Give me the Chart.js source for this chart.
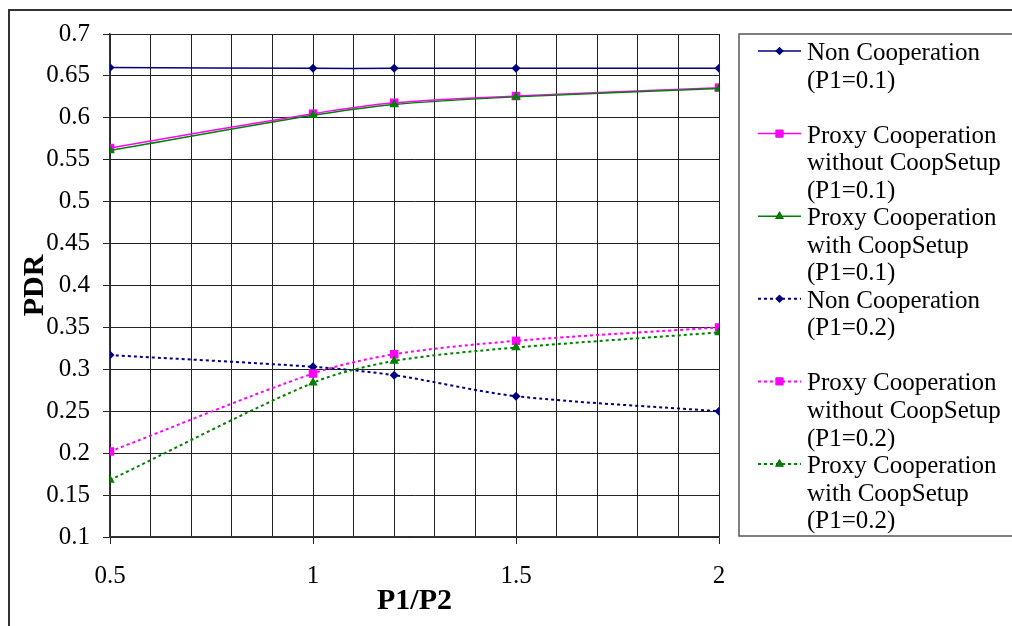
<!DOCTYPE html>
<html>
<head>
<meta charset="utf-8">
<title>PDR vs P1/P2</title>
<script src="https://cdn.jsdelivr.net/npm/chart.js@4.4.0/dist/chart.umd.min.js"></script>
<style>
  body { margin: 0; background: #fff; }
  #wrap { width: 1012px; height: 626px; }
</style>
</head>
<body>
<div id="wrap"><canvas id="myChart" width="1012" height="626"></canvas></div>
<script>
// x positions (P1/P2)
const ratios = [0.5, 1, 1.2, 1.5, 2];

// PDR values
const nonCoop01   = [0.660, 0.659, 0.659, 0.659, 0.659];
const proxyNo01   = [0.564, 0.605, 0.618, 0.626, 0.636];
const proxyWith01 = [0.561, 0.603, 0.616, 0.625, 0.635];
const nonCoop02   = [0.317, 0.303, 0.293, 0.268, 0.250];
const proxyNo02   = [0.202, 0.295, 0.318, 0.334, 0.350];
const proxyWith02 = [0.168, 0.284, 0.310, 0.326, 0.344];

// legend text, one array per series (three lines per slot)
const legendText = [
  ['Non Cooperation', '(P1=0.1)'],
  ['Proxy Cooperation', 'without CoopSetup', '(P1=0.1)'],
  ['Proxy Cooperation', 'with CoopSetup', '(P1=0.1)'],
  ['Non Cooperation', '(P1=0.2)'],
  ['Proxy Cooperation', 'without CoopSetup', '(P1=0.2)'],
  ['Proxy Cooperation', 'with CoopSetup', '(P1=0.2)']
];

const xLabelled = [0.5, 1, 1.5, 2];
const FONT = "'Liberation Serif', 'Times New Roman', serif";

function isLabelled(v) {
  return xLabelled.some(t => Math.abs(t - v) < 1e-6);
}

function series(values, color, marker, radius, dotted, i) {
  return {
    label: legendText[i].join(' '),
    data: ratios.map((x, k) => ({ x: x, y: values[k] })),
    borderColor: color,
    backgroundColor: color,
    borderWidth: dotted ? 2 : 1.5,
    borderDash: dotted ? [3, 3] : [],
    pointStyle: marker,
    pointRadius: radius,
    pointBorderWidth: 0,
    pointBackgroundColor: color,
    tension: 0.3,
    order: 6 - i
  };
}

// draws outer frame and the boxed legend on the right
const legendPlugin = {
  id: 'boxLegend',
  afterDraw(chart) {
    const ctx = chart.ctx;
    ctx.save();
    // outer frame
    ctx.strokeStyle = '#333';
    ctx.lineWidth = 2;
    ctx.beginPath();
    ctx.moveTo(9, 626);
    ctx.lineTo(9, 10);
    ctx.lineTo(1012, 10);
    ctx.stroke();

    // legend box
    ctx.strokeStyle = '#555';
    ctx.lineWidth = 1.5;
    ctx.strokeRect(739, 34, 300, 502);

    ctx.font = '25px ' + FONT;
    ctx.textBaseline = 'alphabetic';
    ctx.textAlign = 'left';
    chart.data.datasets.forEach((ds, i) => {
      const base = 60 + i * 82.6;
      const sy = base - 9;
      ctx.strokeStyle = ds.borderColor;
      ctx.lineWidth = ds.borderWidth;
      ctx.setLineDash(ds.borderDash);
      ctx.beginPath();
      ctx.moveTo(758, sy);
      ctx.lineTo(801, sy);
      ctx.stroke();
      ctx.setLineDash([]);
      Chart.helpers.drawPoint(ctx, {
        pointStyle: ds.pointStyle,
        radius: ds.pointRadius * 0.9,
        borderWidth: 0
      }, 779.5, sy);
      ctx.fillStyle = ds.backgroundColor;
      ctx.fill();
      ctx.fillStyle = '#000';
      legendText[i].forEach((line, j) => {
        ctx.fillText(line, 807, base + j * 27.6);
      });
    });
    ctx.restore();
  }
};

const myChart = new Chart(document.getElementById('myChart'), {
  type: 'line',
  data: {
    datasets: [
      series(nonCoop01,   '#000080', 'rectRot',  4.5, false, 0),
      series(proxyNo01,   '#FF00FF', 'rect',     6,   false, 1),
      series(proxyWith01, '#008000', 'triangle', 5.5, false, 2),
      series(nonCoop02,   '#000080', 'rectRot',  4.5, true,  3),
      series(proxyNo02,   '#FF00FF', 'rect',     6,   true,  4),
      series(proxyWith02, '#008000', 'triangle', 5.5, true,  5)
    ]
  },
  options: {
    responsive: false,
    animation: false,
    layout: { padding: { left: 0, top: 34, right: 293, bottom: 0 } },
    plugins: {
      legend: { display: false },
      tooltip: { enabled: false }
    },
    scales: {
      x: {
        type: 'linear',
        min: 0.5,
        max: 2,
        afterFit: scale => { scale.height = 89; },
        ticks: {
          stepSize: 0.1,
          autoSkip: false,
          maxRotation: 0,
          padding: 17,
          color: '#000',
          font: { family: FONT, size: 25 },
          callback: v => isLabelled(v) ? String(+v.toFixed(1)) : ''
        },
        grid: {
          color: '#222',
          lineWidth: 1,
          tickLength: 7,
          tickColor: c => (c.tick && isLabelled(c.tick.value)) ? '#222' : 'rgba(0,0,0,0)'
        },
        border: { color: '#333', width: 1.5 },
        title: {
          display: true,
          text: 'P1/P2',
          color: '#000',
          font: { family: FONT, size: 30, weight: 'bold' },
          padding: { top: 0, bottom: 7 }
        }
      },
      y: {
        min: 0.1,
        max: 0.7,
        afterFit: scale => { scale.width = 110; },
        ticks: {
          stepSize: 0.05,
          padding: 13,
          color: '#000',
          font: { family: FONT, size: 25 },
          callback: v => String(+v.toFixed(2))
        },
        grid: {
          color: '#222',
          lineWidth: 1,
          tickLength: 7,
          tickColor: '#222'
        },
        border: { color: '#333', width: 1.5 },
        title: {
          display: true,
          text: 'PDR',
          color: '#000',
          font: { family: FONT, size: 30, weight: 'bold' },
          padding: { top: 17, bottom: 0 }
        }
      }
    }
  },
  plugins: [legendPlugin]
});
</script>
</body>
</html>
